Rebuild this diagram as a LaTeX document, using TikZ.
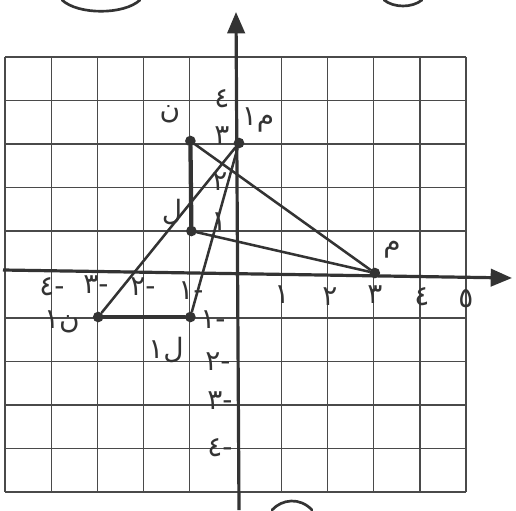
\documentclass[tikz,border=0pt]{standalone}
\usepackage{fontspec}
\newfontfamily\arabicfont[Script=Arabic]{DejaVu Sans}
\TeXXeTstate=1
\usetikzlibrary{arrows.meta}
\definecolor{pencil}{HTML}{333333}
\definecolor{gridc}{HTML}{4a4a4a}
\tikzset{
  gridline/.style={draw=gridc, line width=0.9pt},
  axisline/.style={draw=pencil, line width=2.4pt, -{Triangle[length=16pt,width=13pt]}},
  side/.style={draw=pencil, line width=1.9pt, line cap=round},
  thickside/.style={draw=pencil, line width=3.2pt, line cap=round},
  dot/.style={circle, fill=pencil, inner sep=0pt, minimum size=8pt},
  lab/.style={text=pencil, inner sep=0pt, font=\arabicfont\fontsize{21}{21}\selectfont},
  pen/.style={draw=pencil, line width=2pt, line cap=round},
}
\begin{document}
\begin{tikzpicture}[x=0.75pt, y=-0.75pt]
\useasboundingbox (0,0) rectangle (516,510);
% grid
\foreach \i in {0,1,2,3,4,6,7,8,9,10} {
  \draw[gridline] ({5+46.1*\i},57) -- ({5+46.1*\i},492);
  \draw[gridline] (5,{57+43.5*\i}) -- (466,{57+43.5*\i});
}
% axes
\coordinate (xs) at (3,270);
\coordinate (xe) at (512,278);
\coordinate (ys) at (239,510);
\coordinate (ye) at (236,12);
\draw[axisline] (xs) -- (xe);
\draw[axisline] (ys) -- (ye);
% points
\node[dot] (N)  at (190.4,141) {};
\node[dot] (M)  at (374.8,273) {};
\node[dot] (L)  at (191.4,231) {};
\node[dot] (N1) at (98.2,317) {};
\node[dot] (L1) at (190.4,317) {};
\node[dot] (M1) at (239,143) {};
% original triangle
\draw[thickside] (N) -- (L);
\draw[side] (N) -- (M);
\draw[side] (L) -- (M);
% rotated triangle
\draw[thickside] (N1) -- (L1);
\draw[side] (N1) -- (M1);
\draw[side] (L1) -- (M1);
% point labels
\node[lab] (tN)  at (170,114) {\beginR ن\endR};
\node[lab] (tM1) at (258,120) {\beginR م١\endR};
\node[lab] (tM)  at (392,250) {\beginR م\endR};
\node[lab] (tL)  at (172,212) {\beginR ل\endR};
\node[lab] (tN1) at (62,322) {\beginR ن١\endR};
\node[lab] (tL1) at (166,350) {\beginR ل١\endR};
% x-axis numbers
\node[lab] (x1) at (282,295) {\beginR ١\endR};
\node[lab] (x2) at (330,297) {\beginR ٢\endR};
\node[lab] (x3) at (375,295) {\beginR ٣\endR};
\node[lab] (x4) at (422,297) {\beginR ٤\endR};
\node[lab] (x5) at (466,299) {\beginR ٥\endR};
\node[lab] (xm4) at (52,287) {\beginR -٤\endR};
\node[lab] (xm3) at (96,285) {\beginR -٣\endR};
\node[lab] (xm2) at (143,287) {\beginR -٢\endR};
\node[lab] (xm1) at (191,291) {\beginR -١\endR};
% y-axis numbers
\node[lab] (y4) at (222,99) {\beginR ٤\endR};
\node[lab] (y3) at (222,136) {\beginR ٣\endR};
\node[lab] (y2) at (220,182) {\beginR ٢\endR};
\node[lab] (y1) at (219,222) {\beginR ١\endR};
\node[lab] (ym1) at (213,320) {\beginR -١\endR};
\node[lab] (ym2) at (218,362) {\beginR -٢\endR};
\node[lab] (ym3) at (220,401) {\beginR -٣\endR};
\node[lab] (ym4) at (220,448) {\beginR -٤\endR};
% cut-off circles at page edges
\draw[pen] (62,0) .. controls (78,15) and (124,15) .. (140,0);
\draw[pen] (384,0) .. controls (394,8) and (412,8) .. (422,0);
\draw[pen] (272,510) .. controls (282,499) and (300,497) .. (312,510);
\end{tikzpicture}
\end{document}
